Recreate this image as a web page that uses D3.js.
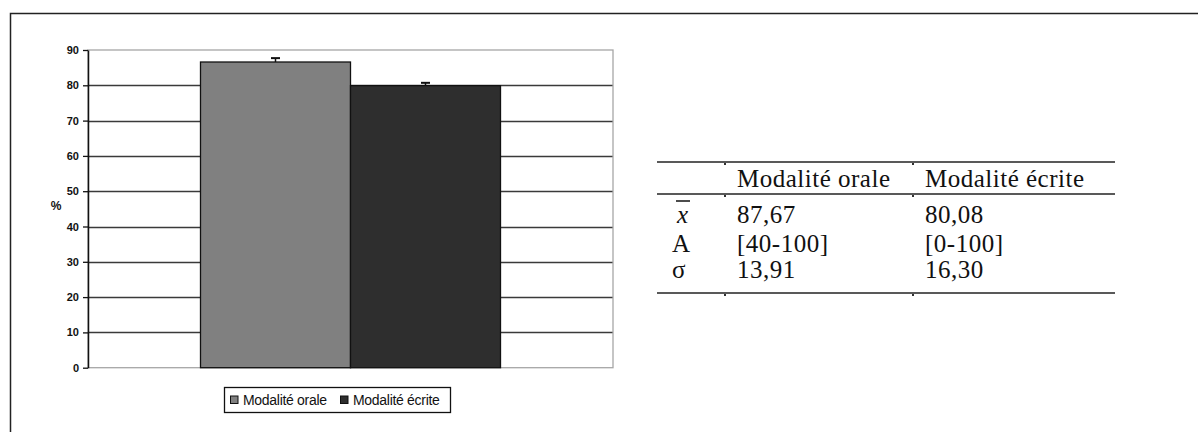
<!DOCTYPE html>
<html>
<head>
<meta charset="utf-8">
<script src="https://cdn.jsdelivr.net/npm/d3@7"></script>
<style>
  body { margin: 0; background: #fff; }
  .serif text { font-family: "Liberation Serif", "Times New Roman", Times, "DejaVu Serif", serif; }
</style>
</head>
<body>
<div id="chart"></div>
<script>
// Chart data
const categories = [""];
const seriesNames = ["Modalité orale", "Modalité écrite"];
const seriesMeans = [86.6, 79.9];
const seriesErrors = [1.1, 0.8];
const seriesColors = ["#808080", "#2e2e2e"];
const yTicks = [0, 10, 20, 30, 40, 50, 60, 70, 80, 90];

// Table data
const tableHeader = ["", "Modalité orale", "Modalité écrite"];
const tableRowLabels = ["x̄", "A", "σ"];
const tableOrale = ["87,67", "[40-100]", "13,91"];
const tableEcrite = ["80,08", "[0-100]", "16,30"];

const width = 1198;
const height = 432;

const sans = "Liberation Sans, Arial, sans-serif";

const svg = d3.select("#chart").append("svg")
    .attr("width", width)
    .attr("height", height)
    .attr("viewBox", [0, 0, width, height]);

// Outer frame (only top and left visible in the crop)
svg.append("path")
    .attr("d", `M10.5,${height + 2}V13.5H${width + 2}`)
    .attr("fill", "none")
    .attr("stroke", "#222")
    .attr("stroke-width", 1.5);

// Plot area
const plotLeft = 88, plotRight = 613, plotTop = 50, plotBottom = 367.7;

const y = d3.scaleLinear()
    .domain([0, 90])
    .range([plotBottom, plotTop]);

const x0 = d3.scaleBand()
    .domain(categories)
    .range([plotLeft, plotRight])
    .paddingInner(0)
    .paddingOuter(0.375);

const x1 = d3.scaleBand()
    .domain(seriesNames)
    .range([0, x0.bandwidth()])
    .padding(0);

// Grid lines
svg.append("g")
    .selectAll("line")
    .data(yTicks.filter(d => d > 0 && d < 90))
    .join("line")
    .attr("x1", plotLeft)
    .attr("x2", plotRight)
    .attr("y1", d => Math.round(y(d)) + 0.5)
    .attr("y2", d => Math.round(y(d)) + 0.5)
    .attr("stroke", "#3a3a3a")
    .attr("stroke-width", 1.3);

// Plot area border (gray)
svg.append("rect")
    .attr("x", plotLeft)
    .attr("y", y(90))
    .attr("width", plotRight - plotLeft)
    .attr("height", y(0) - y(90))
    .attr("fill", "none")
    .attr("stroke", "#a6a6a6")
    .attr("stroke-width", 1.3);

// Bars
const group = svg.append("g")
    .attr("transform", `translate(${x0(categories[0])},0)`);

group.selectAll("rect")
    .data(seriesNames)
    .join("rect")
    .attr("x", d => x1(d))
    .attr("y", (d, i) => y(seriesMeans[i]))
    .attr("width", x1.bandwidth())
    .attr("height", (d, i) => y(0) - y(seriesMeans[i]))
    .attr("fill", (d, i) => seriesColors[i])
    .attr("stroke", "#111")
    .attr("stroke-width", 1.3);

// Error bars (upper part only)
const err = group.selectAll(".err")
    .data(seriesNames)
    .join("g")
    .attr("class", "err");

err.append("line")
    .attr("x1", d => x1(d) + x1.bandwidth() / 2)
    .attr("x2", d => x1(d) + x1.bandwidth() / 2)
    .attr("y1", (d, i) => y(seriesMeans[i]))
    .attr("y2", (d, i) => y(seriesMeans[i] + seriesErrors[i]))
    .attr("stroke", "#111")
    .attr("stroke-width", 1.5);

err.append("line")
    .attr("x1", d => x1(d) + x1.bandwidth() / 2 - 4.5)
    .attr("x2", d => x1(d) + x1.bandwidth() / 2 + 4.5)
    .attr("y1", (d, i) => y(seriesMeans[i] + seriesErrors[i]))
    .attr("y2", (d, i) => y(seriesMeans[i] + seriesErrors[i]))
    .attr("stroke", "#111")
    .attr("stroke-width", 2);

// Y axis
svg.append("g")
    .attr("transform", `translate(${plotLeft},0)`)
    .call(d3.axisLeft(y).tickValues(yTicks).tickSize(5).tickPadding(4).tickSizeOuter(0))
    .call(g => g.select(".domain").attr("stroke", "#111").attr("stroke-width", 1.5))
    .call(g => g.selectAll(".tick line").attr("stroke", "#111").attr("stroke-width", 1.3))
    .call(g => g.selectAll(".tick text")
        .attr("fill", "#111")
        .attr("font-family", sans)
        .attr("font-weight", "bold")
        .attr("font-size", 11));

svg.append("text")
    .attr("x", 56)
    .attr("y", 210)
    .attr("text-anchor", "middle")
    .attr("font-family", sans)
    .attr("font-weight", "bold")
    .attr("font-size", 12)
    .attr("fill", "#111")
    .text("%");

// Legend
const legend = svg.append("g").attr("transform", "translate(224,387)");
legend.append("rect")
    .attr("x", 0.5)
    .attr("y", 0.5)
    .attr("width", 226)
    .attr("height", 25)
    .attr("fill", "#fff")
    .attr("stroke", "#111")
    .attr("stroke-width", 1.3);

const legendX = [6, 116];
const legendItems = legend.selectAll(".item")
    .data(seriesNames)
    .join("g")
    .attr("class", "item")
    .attr("transform", (d, i) => `translate(${legendX[i]},0)`);

legendItems.append("rect")
    .attr("x", 0.5)
    .attr("y", 9)
    .attr("width", 7.5)
    .attr("height", 7.5)
    .attr("fill", (d, i) => seriesColors[i])
    .attr("stroke", "#111")
    .attr("stroke-width", 1);

legendItems.append("text")
    .attr("x", 13)
    .attr("y", 18)
    .attr("font-family", sans)
    .attr("font-size", 14)
    .attr("letter-spacing", "-0.3px")
    .attr("fill", "#111")
    .text(d => d);

// Statistics table
const table = svg.append("g")
    .attr("class", "serif")
    .attr("font-size", 25)
    .attr("fill", "#111");
const tableLeft = 657, tableRight = 1115;
const colX = [675, 737, 925];
const headerBaseline = 187;
const rowBaselines = [223, 252, 278];

[162, 194, 293].forEach(yy => {
    table.append("line")
        .attr("x1", tableLeft)
        .attr("x2", tableRight)
        .attr("y1", yy)
        .attr("y2", yy)
        .attr("stroke", "#222")
        .attr("stroke-width", 1.5);
});

// little dots at column boundaries
[[725, 164], [913, 164], [725, 196], [913, 196], [725, 295], [913, 295]].forEach(([cx, cy]) => {
    table.append("rect")
        .attr("x", cx - 1)
        .attr("y", cy - 1)
        .attr("width", 2)
        .attr("height", 2)
        .attr("fill", "#333");
});

table.selectAll(".head")
    .data(tableHeader.slice(1))
    .join("text")
    .attr("class", "head")
    .attr("x", (d, i) => colX[i + 1])
    .attr("y", headerBaseline)
    .attr("letter-spacing", "0.5px")
    .text(d => d);

// row labels; the mean symbol is an italic x with an overline
table.append("text")
    .attr("x", colX[0] + 2)
    .attr("y", rowBaselines[0])
    .attr("font-style", "italic")
    .text("x");
table.append("line")
    .attr("x1", colX[0] + 1)
    .attr("x2", colX[0] + 15)
    .attr("y1", 201)
    .attr("y2", 201)
    .attr("stroke", "#111")
    .attr("stroke-width", 1.5);

table.selectAll(".rlab")
    .data(tableRowLabels.slice(1))
    .join("text")
    .attr("class", "rlab")
    .attr("x", colX[0] - 3)
    .attr("y", (d, i) => rowBaselines[i + 1])
    .text(d => d);

[tableOrale, tableEcrite].forEach((col, c) => {
    table.selectAll(`.c${c}`)
        .data(col)
        .join("text")
        .attr("class", `c${c}`)
        .attr("x", colX[c + 1])
        .attr("y", (d, i) => rowBaselines[i])
        .attr("letter-spacing", "0.5px")
        .text(d => d);
});
</script>
</body>
</html>
